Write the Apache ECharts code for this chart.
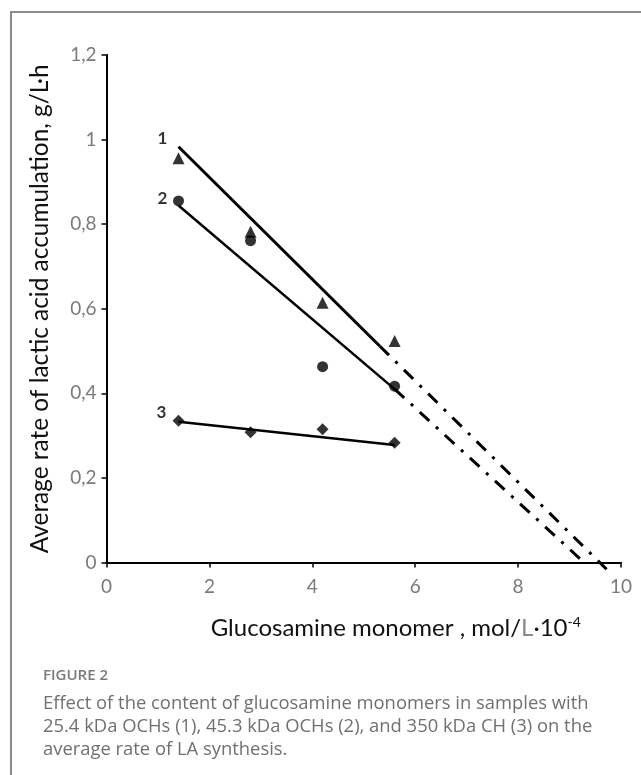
<!DOCTYPE html>
<html>
<head>
<meta charset="utf-8">
<script src="https://cdn.jsdelivr.net/npm/echarts@6/dist/echarts.min.js"></script>
<style>
  html, body { margin: 0; padding: 0; background: #fff; }
  body { width: 641px; height: 775px; position: relative; overflow: hidden; }
  #frame { position: absolute; left: 10px; top: 11px; width: 700px; height: 800px;
           border-left: 2px solid #8c8c8c; border-top: 2px solid #8c8c8c; }
  #chart { position: absolute; left: 0; top: 0; width: 641px; height: 775px; }
  .cap { position: absolute; left: 43px; font-family: "Open Sans", sans-serif; color: #707070; }
  #figno { top: 663px; font-size: 15px; font-weight: 600; line-height: 23px; color: #7a7a7a; }
  #captext { top: 690px; font-size: 18.4px; line-height: 23px; white-space: nowrap; }
</style>
</head>
<body>
<div id="frame"></div>
<div id="chart"></div>
<div class="cap" id="figno">FIGURE 2</div>
<div class="cap" id="captext">Effect of the content of glucosamine monomers in samples with<br>25.4 kDa OCHs (1), 45.3 kDa OCHs (2), and 350 kDa CH (3) on the<br>average rate of LA synthesis.</div>
<script>
// glucosamine monomer, mol/L·10^-4
const xGlucosamine = [1.4, 2.8, 4.2, 5.6]
// average rate of LA accumulation, g/L·h
const rate25kDa = [0.956, 0.782, 0.614, 0.524]   // (1) triangles
const rate45kDa = [0.855, 0.761, 0.463, 0.417]   // (2) circles
const rate350kDa = [0.335, 0.308, 0.315, 0.283]  // (3) diamonds

// trend lines as drawn: [x, y] ends
const fit1 = [[1.4, 0.983], [5.31, 0.512]]
const fit1Ext = [[5.31, 0.512], [9.72, -0.016]]
const fit2 = [[1.4, 0.844], [5.6, 0.41]]
const fit2Ext = [[5.6, 0.41], [9.32, -0.004]]
const fit3 = [[1.4, 0.333], [5.6, 0.278]]

const curveNames = ['1', '2', '3']

const chart = echarts.init(document.getElementById('chart'))

function points(ys, name, offset) {
  return ys.map((y, i) => {
    const p = { value: [xGlucosamine[i], y] }
    if (i === 0) {
      p.label = { show: true, position: 'inside', offset: offset, formatter: name,
        color: '#000', fontWeight: 'bold', fontSize: 17, fontFamily: 'Lato' }
    }
    return p
  })
}

const solid = (data, w) => ({
  type: 'line', data: data, symbol: 'none', z: 2,
  lineStyle: { color: '#000', width: w }
})
const dashDot = (data) => ({
  type: 'line', data: data, symbol: 'none', clip: false, z: 2,
  lineStyle: { color: '#000', width: 3, type: [13, 9, 3, 9] }
})

const option = {
  animation: false,
  backgroundColor: 'transparent',
  grid: { left: 106.5, right: 20, top: 55, bottom: 212.5, containLabel: false },
  xAxis: {
    type: 'value', min: 0, max: 10, interval: 2,
    name: '{t|Glucosamine monomer , mol/}{g|L}{t|·10}{s|-4}',
    nameLocation: 'middle', nameGap: 53,
    nameTextStyle: {
      padding: [0, 0, 0, 64],
      rich: {
        t: { fontSize: 24, color: '#111', fontFamily: 'Lato' },
        g: { fontSize: 24, color: '#8a8a8a', fontFamily: 'Lato' },
        s: { fontSize: 14, color: '#111', fontFamily: 'Lato', padding: [0, 0, 11, 0] }
      }
    },
    axisLine: { lineStyle: { color: '#000', width: 2 } },
    axisTick: { inside: false, length: 5, lineStyle: { color: '#000', width: 1.5 } },
    axisLabel: { margin: 15, fontSize: 19, color: '#7a7a7a', fontFamily: 'Lato' },
    splitLine: { show: false }
  },
  yAxis: {
    type: 'value', min: 0, max: 1.2, interval: 0.2,
    name: 'Average rate of lactic acid accumulation, g/L·h',
    nameLocation: 'middle', nameGap: 54,
    nameTextStyle: { fontSize: 24.4, color: '#111', fontFamily: 'Lato' },
    axisLine: { show: true, lineStyle: { color: '#000', width: 2 } },
    axisTick: { show: true, length: 5, lineStyle: { color: '#000', width: 1.5 } },
    axisLabel: {
      margin: 10, fontSize: 19, color: '#7a7a7a', fontFamily: 'Lato',
      formatter: (v) => String(Math.round(v * 10) / 10).replace('.', ',')
    },
    splitLine: { show: false }
  },
  series: [
    solid(fit1, 3),
    dashDot(fit1Ext),
    solid(fit2, 2.5),
    dashDot(fit2Ext),
    solid(fit3, 2.5),
    {
      type: 'scatter', symbol: 'triangle', symbolSize: 12, z: 3,
      itemStyle: { color: '#000' },
      data: points(rate25kDa, curveNames[0], [-16, -20])
    },
    {
      type: 'scatter', symbol: 'circle', symbolSize: 11, z: 3,
      itemStyle: { color: '#000' },
      data: points(rate45kDa, curveNames[1], [-16, -2])
    },
    {
      type: 'scatter', symbol: 'diamond', symbolSize: 12, z: 3,
      itemStyle: { color: '#000' },
      data: points(rate350kDa, curveNames[2], [-17, -8])
    }
  ]
}

chart.setOption(option)
</script>
</body>
</html>
